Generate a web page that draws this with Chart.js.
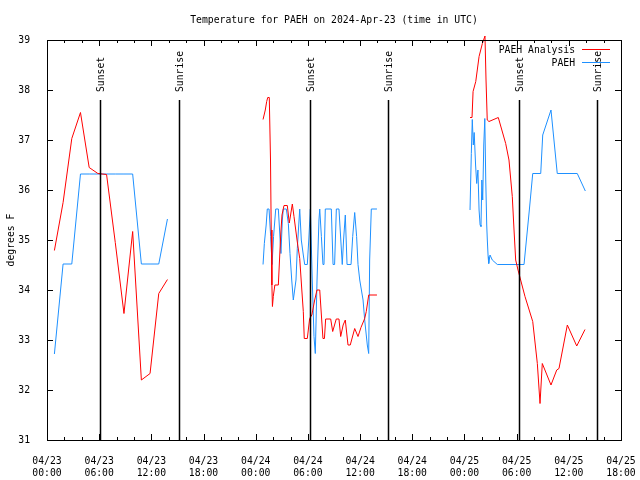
<!DOCTYPE html>
<html>
<head>
<meta charset="utf-8">
<title>PAEH temperature</title>
<style>
    html, body { margin: 0; padding: 0; background: #fff; }
</style>
<script src="https://cdn.jsdelivr.net/npm/chart.js@4.4.1/dist/chart.umd.min.js"></script>
</head>
<body>
<canvas id="temp_chart" width="640" height="480"></canvas>
<script>
// hours since 2024-04-23 00:00 UTC, null = gap between runs
const analysisHours = [
    0.85, 1.85, 2.85, 3.85, 4.85, 5.85, 6.85, 7.85, 8.85, 9.85, 10.85, 11.85, 12.85, 13.85,
    20,
    24.84, 25.1, 25.26, 25.38, 25.56, 25.7, 25.78, 25.86, 25.92, 26.02, 26.2, 26.6, 26.87, 27.02,
    27.25, 27.63, 27.86, 28.21, 28.4, 28.75, 29.06, 29.3, 29.47, 29.58, 29.93, 30.2, 30.45, 30.78,
    31.04, 31.36, 31.55, 31.73, 31.9, 32.04, 32.62, 32.85, 33.26, 33.57, 33.77, 34.05, 34.3, 34.61,
    34.87, 35.38, 35.76, 36.1, 36.53, 36.71, 36.99, 37.94,
    44,
    48.64, 48.87, 48.99, 49.3, 49.68, 50.06, 50.36, 50.48, 50.62, 50.82, 51.89, 52.74, 53.12, 53.5,
    53.7, 53.89, 54.16, 54.31, 54.96, 55.85, 56.38, 56.69, 56.95, 57.95, 58.61, 58.87, 59.83, 60.91, 61.86
];
const analysisTemps = [
    34.79, 35.75, 37.03, 37.55, 36.45, 36.33, 36.31, 34.95, 33.53, 35.17, 32.2, 32.33, 33.93, 34.21,
    null,
    37.41, 37.6, 37.77, 37.85, 37.85, 36.6, 35.2, 34.1, 33.67, 33.87, 34.1, 34.1, 35.1, 35.5,
    35.69, 35.69, 35.34, 35.72, 35.47, 35.0, 34.63, 34.0, 33.57, 33.03, 33.03, 33.43, 33.5, 33.8,
    34.0, 34.0, 33.5, 33.03, 33.03, 33.42, 33.42, 33.17, 33.42, 33.42, 33.07, 33.3, 33.4, 32.9,
    32.9, 33.23, 33.07, 33.25, 33.43, 33.57, 33.9, 33.9,
    null,
    37.45, 37.45, 37.97, 38.17, 38.67, 38.93, 39.08, 38.2, 37.4, 37.37, 37.45, 36.93, 36.6, 35.87,
    35.2, 34.6, 34.4, 34.3, 33.87, 33.37, 32.53, 31.73, 32.53, 32.1, 32.4, 32.43, 33.3, 32.88, 33.21
];

const obsHours = [
    0.85, 1.85, 2.85, 3.85, 4.85, 5.85, 6.85, 7.85, 8.85, 9.85, 10.85, 11.85, 12.85, 13.85,
    20,
    24.84, 24.99, 25.2, 25.33, 25.53, 25.72, 25.88, 26.05, 26.3, 26.6, 26.9, 27.06, 27.17, 27.52,
    27.75, 27.94, 28.14, 28.32, 28.63, 28.78, 29.06, 29.24, 29.47, 29.63, 29.93, 30.1, 30.28, 30.5,
    30.7, 30.85, 31.05, 31.27, 31.36, 31.55, 31.73, 31.85, 32.0, 32.69, 32.89, 33.07, 33.27, 33.57,
    33.95, 34.1, 34.3, 34.5, 34.96, 35.15, 35.38, 35.6, 35.76, 35.96, 36.34, 36.53, 36.83, 36.99,
    37.1, 37.29, 37.94,
    44,
    48.64, 48.79, 48.9, 49.02, 49.12, 49.28, 49.41, 49.55, 49.68, 49.8, 49.9, 50.0, 50.1, 50.22,
    50.34, 50.45, 50.56, 50.63, 50.72, 50.79, 50.94, 51.2, 51.78, 54.85, 55.46, 55.85, 56.77, 57.0,
    57.95, 58.67, 60.97, 61.9
];
const obsTemps = [
    32.72, 34.52, 34.52, 36.32, 36.32, 36.32, 36.32, 36.32, 36.32, 36.32, 34.52, 34.52, 34.52, 35.42,
    null,
    34.51, 34.93, 35.3, 35.62, 35.62, 35.07, 34.51, 35.07, 35.62, 35.62, 34.73, 35.4, 35.62, 35.62,
    35.33, 34.73, 34.2, 33.8, 34.2, 34.83, 35.62, 35.0, 34.7, 34.51, 34.51, 35.0, 35.62, 34.2,
    33.07, 32.73, 34.2, 35.4, 35.62, 35.07, 34.51, 34.51, 35.62, 35.62, 34.51, 34.51, 35.62, 35.62,
    34.51, 35.0, 35.5, 34.51, 34.51, 35.07, 35.55, 35.07, 34.51, 34.2, 33.8, 33.4, 32.9, 32.73,
    34.6, 35.62, 35.62,
    null,
    35.6, 36.73, 37.41, 36.9, 37.15, 36.5, 36.13, 36.4, 35.6, 35.3, 35.27, 36.2, 35.8, 36.9,
    37.43, 36.2, 35.3, 35.0, 34.67, 34.53, 34.7, 34.6, 34.51, 34.51, 35.6, 36.33, 36.33, 37.1,
    37.6, 36.33, 36.33, 35.98
];

const sunLabels = ['Sunset', 'Sunrise', 'Sunset', 'Sunrise', 'Sunset', 'Sunrise'];
const sunHours = [6.13, 15.21, 30.28, 39.24, 54.31, 63.27];

const yTicks = [31, 32, 33, 34, 35, 36, 37, 38, 39];
const xTickHours = [0, 6, 12, 18, 24, 30, 36, 42, 48, 54, 60, 66];
const xTickDates = ['04/23', '04/23', '04/23', '04/23', '04/24', '04/24', '04/24', '04/24', '04/25', '04/25', '04/25', '04/25'];
const xTickTimes = ['00:00', '06:00', '12:00', '18:00', '00:00', '06:00', '12:00', '18:00', '00:00', '06:00', '12:00', '18:00'];

const FONT = "'DejaVu Sans Mono', monospace";
const FONT_SIZE = 9.75;

function toPoints(hours, temps) {
    return hours.map((h, i) => ({ x: h, y: temps[i] }));
}

// gnuplot style frame: border plus inward ticks on all four sides
const frame = {
    id: 'frame',
    afterDatasetsDraw(chart) {
        const { ctx, chartArea: a, scales: { x, y } } = chart;
        ctx.save();
        ctx.strokeStyle = '#000';
        ctx.lineWidth = 1;
        ctx.beginPath();
        yTicks.forEach(v => {
            const py = Math.round(y.getPixelForValue(v)) + 0.5;
            ctx.moveTo(a.left, py); ctx.lineTo(a.left + 6, py);
            ctx.moveTo(a.right, py); ctx.lineTo(a.right - 6, py);
        });
        for (let h = x.min; h <= x.max; h += 2) {
            const px = Math.round(x.getPixelForValue(h)) + 0.5;
            const len = xTickHours.includes(h) ? 6 : 3;
            ctx.moveTo(px, a.bottom); ctx.lineTo(px, a.bottom - len);
            ctx.moveTo(px, a.top); ctx.lineTo(px, a.top + len);
        }
        ctx.stroke();
        ctx.strokeRect(a.left + 0.5, a.top + 0.5, a.right - a.left, a.bottom - a.top);

        // sunset / sunrise markers
        ctx.lineWidth = 1.5;
        ctx.fillStyle = '#000';
        ctx.font = FONT_SIZE + 'px ' + FONT;
        const lineTop = y.getPixelForValue(37.8);
        const labelY = y.getPixelForValue(37.96);
        sunHours.forEach((h, i) => {
            const px = Math.round(x.getPixelForValue(h)) + 0.5;
            ctx.beginPath();
            ctx.moveTo(px, lineTop);
            ctx.lineTo(px, a.bottom);
            ctx.stroke();
            ctx.save();
            ctx.translate(px + 1, labelY);
            ctx.rotate(-Math.PI / 2);
            ctx.textAlign = 'left';
            ctx.textBaseline = 'middle';
            ctx.fillText(sunLabels[i], 0, 0);
            ctx.restore();
        });

        // key in the top right corner
        ctx.lineWidth = 1;
        ctx.textAlign = 'right';
        ctx.textBaseline = 'middle';
        chart.data.datasets.forEach((ds, i) => {
            const ty = a.top + 10 + i * 13;
            ctx.fillStyle = '#000';
            ctx.fillText(ds.label, a.right - 46, ty + 0.5);
            ctx.strokeStyle = ds.borderColor;
            ctx.beginPath();
            ctx.moveTo(a.right - 39, ty - 0.5);
            ctx.lineTo(a.right - 11, ty - 0.5);
            ctx.stroke();
        });
        ctx.restore();
    }
};

const ctx = document.getElementById('temp_chart').getContext('2d');
const chart = new Chart(ctx, {
    type: 'line',
    data: {
        datasets: [{
            label: 'PAEH Analysis',
            data: toPoints(analysisHours, analysisTemps),
            borderColor: '#ff0000',
            borderWidth: 1,
            pointRadius: 0,
            tension: 0,
            spanGaps: false,
            clip: { left: 0, right: 0, top: 6, bottom: 0 }
        }, {
            label: 'PAEH',
            data: toPoints(obsHours, obsTemps),
            borderColor: '#1e90ff',
            borderWidth: 1,
            pointRadius: 0,
            tension: 0,
            spanGaps: false
        }]
    },
    options: {
        responsive: false,
        animation: false,
        events: [],
        layout: { padding: { left: 0, right: 19, top: 0, bottom: 0 } },
        plugins: {
            legend: { display: false },
            tooltip: { enabled: false },
            title: {
                display: true,
                fullSize: false,
                text: 'Temperature for PAEH on 2024-Apr-23 (time in UTC)',
                color: '#000',
                font: { family: FONT, size: FONT_SIZE, weight: 'normal', lineHeight: '12px' },
                padding: { top: 14, bottom: 14 }
            }
        },
        scales: {
            x: {
                type: 'linear',
                min: 0,
                max: 66,
                // fixed axis height; end labels may hang past the frame
                afterFit: s => { s.height = 40; s.paddingLeft = 0; s.paddingRight = 0; },
                grid: { display: false },
                border: { display: false },
                ticks: {
                    stepSize: 6,
                    autoSkip: false,
                    maxRotation: 0,
                    minRotation: 0,
                    padding: 7,
                    color: '#000',
                    font: { family: FONT, size: FONT_SIZE, lineHeight: '12px' },
                    callback: v => {
                        const i = xTickHours.indexOf(v);
                        return i < 0 ? null : [xTickDates[i], xTickTimes[i]];
                    }
                }
            },
            y: {
                min: 31,
                max: 39,
                afterFit: s => { s.width = 47; },
                grid: { display: false },
                border: { display: false },
                title: {
                    display: true,
                    text: 'degrees F',
                    color: '#000',
                    font: { family: FONT, size: FONT_SIZE, lineHeight: '12px' },
                    padding: { top: 5, bottom: 0 }
                },
                ticks: {
                    stepSize: 1,
                    padding: 9,
                    color: '#000',
                    font: { family: FONT, size: FONT_SIZE, lineHeight: '12px' }
                }
            }
        }
    },
    plugins: [frame]
});
</script>
</body>
</html>
